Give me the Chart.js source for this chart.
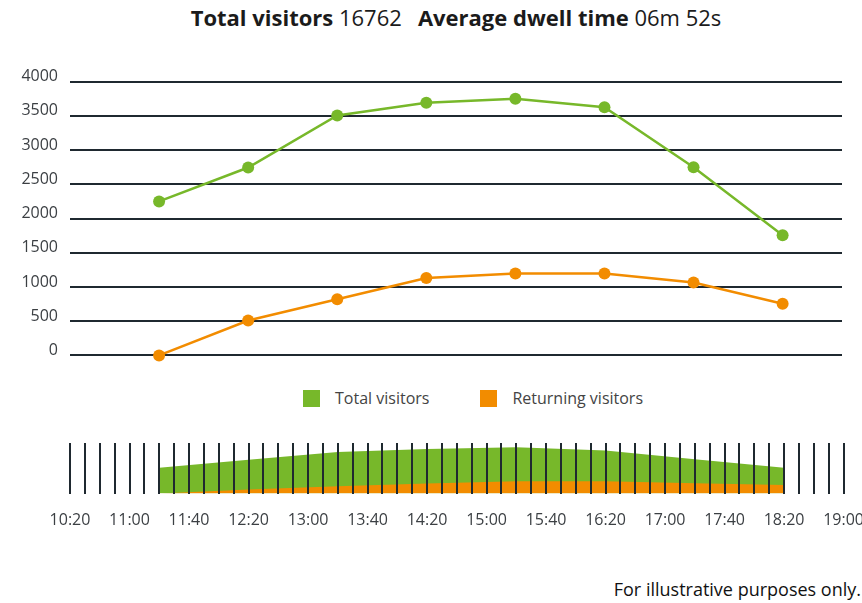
<!DOCTYPE html>
<html>
<head>
<meta charset="utf-8">
<script src="https://cdn.jsdelivr.net/npm/chart.js@4"></script>
<style>
  body { margin: 0; background: #fff; font-family: "Open Sans", "Noto Sans", sans-serif; color: #1b1b1b; }
  #page { position: relative; width: 862px; height: 603px; overflow: hidden; }
  #title { position: absolute; left: 70px; width: 772px; top: 2px; text-align: center; font-size: 22px; white-space: nowrap; }
  #title b { font-weight: 700; }
  #title .gap { display: inline-block; width: 16px; }
  #topWrap { position: absolute; left: 0; top: 60px; width: 862px; height: 317px; }
  #navWrap { position: absolute; left: 0; top: 430px; width: 881px; height: 114px; }
  #legend { position: absolute; left: 303px; top: 387px; display: flex; align-items: center; font-size: 16px; color: #444; }
  .item { display: flex; align-items: center; margin-right: 51px; }
  .swatch { width: 17px; height: 17px; margin-right: 15px; }
  #note { position: absolute; right: 1px; top: 577px; font-size: 18px; color: #111; }
</style>
</head>
<body>
<div id="page">
  <div id="title"><b>Total visitors</b> 16762<span class="gap"></span><b>Average dwell time</b> 06m 52s</div>
  <div id="topWrap"><canvas id="visitorsChart"></canvas></div>
  <div id="legend"></div>
  <div id="navWrap"><canvas id="overviewChart"></canvas></div>
  <div id="note">For illustrative purposes only.</div>
</div>
<script>
// Data
const hours = ['11:20', '12:20', '13:20', '14:20', '15:20', '16:20', '17:20', '18:20'];
const totalVisitors = [2250, 2745, 3505, 3690, 3750, 3625, 2750, 1755];
const returningVisitors = [0, 510, 820, 1130, 1195, 1195, 1065, 755];
// small overview strip at the bottom
const overviewTotal = [2040, 2670, 3290, 3530, 3660, 3400, 2720, 2040];
const overviewReturning = [0, 314, 580, 784, 972, 972, 815, 682];
const timeLabels = ['10:20', '11:00', '11:40', '12:20', '13:00', '13:40', '14:20', '15:00', '15:40', '16:20', '17:00', '17:40', '18:20', '19:00'];
const yTicks = [0, 500, 1000, 1500, 2000, 2500, 3000, 3500, 4000];

const green = '#77b82a';
const orange = '#f28c00';
const gridColor = '#1f2930';
const tickFont = { family: 'Open Sans', size: 16 };

const toMinutes = t => { const [h, m] = t.split(':').map(Number); return h * 60 + m; };
const xMin = toMinutes(timeLabels[0]);
const xMax = toMinutes(timeLabels[timeLabels.length - 1]);
const points = arr => arr.map((v, i) => ({ x: toMinutes(hours[i]), y: v }));

const seriesNames = ['Total visitors', 'Returning visitors'];

// Main line chart
const visitorsChart = new Chart(document.getElementById('visitorsChart'), {
  type: 'line',
  data: {
    datasets: [{
      label: seriesNames[0],
      data: points(totalVisitors),
      borderColor: green,
      backgroundColor: green,
      borderWidth: 2.5,
      pointRadius: 6,
      pointBorderWidth: 0,
      clip: false
    }, {
      label: seriesNames[1],
      data: points(returningVisitors),
      borderColor: orange,
      backgroundColor: orange,
      borderWidth: 2.5,
      pointRadius: 6,
      pointBorderWidth: 0,
      clip: false
    }]
  },
  options: {
    responsive: true,
    maintainAspectRatio: false,
    animation: false,
    layout: { padding: { top: 0, bottom: 0, right: 20 } },
    plugins: { legend: { display: false }, tooltip: { enabled: false } },
    scales: {
      x: { type: 'linear', min: xMin, max: xMax, display: false },
      y: {
        min: yTicks[0],
        max: yTicks[yTicks.length - 1],
        afterBuildTicks: scale => { scale.ticks = yTicks.map(v => ({ value: v })); },
        afterFit: scale => { scale.width = 70; },
        border: { display: false },
        grid: { color: gridColor, lineWidth: 2, drawTicks: false },
        ticks: {
          padding: 12,
          labelOffset: -5,
          color: '#3b3f43',
          font: tickFont,
          callback: v => String(v)
        }
      }
    }
  }
});

// legend built from the datasets
const legendEl = document.getElementById('legend');
visitorsChart.data.datasets.forEach(ds => {
  const item = document.createElement('div');
  item.className = 'item';
  item.innerHTML = '<span class="swatch" style="background:' + ds.borderColor + '"></span>' + ds.label;
  legendEl.appendChild(item);
});

// Overview strip with 10 minute lines on top of the areas
const overviewChart = new Chart(document.getElementById('overviewChart'), {
  type: 'line',
  data: {
    datasets: [{
      label: seriesNames[1],
      data: points(overviewReturning),
      borderWidth: 0,
      pointRadius: 0,
      fill: 'origin',
      backgroundColor: orange
    }, {
      label: seriesNames[0],
      data: points(overviewTotal),
      borderWidth: 0,
      pointRadius: 0,
      fill: 'origin',
      backgroundColor: green
    }]
  },
  options: {
    responsive: true,
    maintainAspectRatio: false,
    animation: false,
    layout: { padding: { top: 13, left: 70, right: 0, bottom: 0 } },
    plugins: { legend: { display: false }, tooltip: { enabled: false } },
    scales: {
      y: { display: false, min: 0, max: 4000 },
      x: {
        type: 'linear',
        min: xMin,
        max: xMax,
        border: { display: false },
        grid: { color: gridColor, lineWidth: 2, drawTicks: false, z: 1 },
        ticks: {
          stepSize: 10,
          autoSkip: false,
          maxRotation: 0,
          padding: 17,
          color: '#3b3f43',
          font: tickFont,
          callback: v => ((v - xMin) % 40 === 0 ? timeLabels[(v - xMin) / 40] : '')
        }
      }
    }
  }
});
</script>
</body>
</html>
